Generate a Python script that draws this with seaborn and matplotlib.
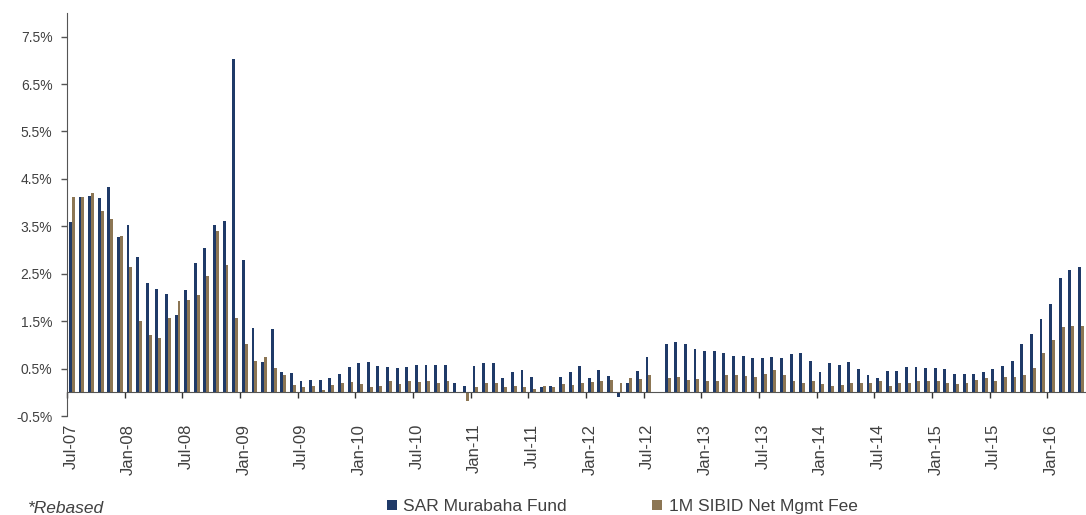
import matplotlib
matplotlib.use("Agg")
import matplotlib.pyplot as plt
import matplotlib.transforms as mtransforms
import numpy as np
import pandas as pd
import seaborn as sns

# monthly returns, Jul-07 .. Apr-16 (in %)
months = pd.date_range("2007-07-01", periods=106, freq="MS").strftime("%b-%y").tolist()

sar_fund = [
    3.59, 4.12, 4.14, 4.10, 4.33, 3.28, 3.52, 2.86, 2.30, 2.17, 2.08, 1.64,
    2.16, 2.73, 3.04, 3.52, 3.61, 7.03, 2.79, 1.35, 0.64, 1.33, 0.42, 0.40,
    0.25, 0.26, 0.26, 0.30, 0.39, 0.53, 0.61, 0.65, 0.56, 0.53, 0.51, 0.53,
    0.57, 0.57, 0.57, 0.57, 0.20, 0.13, 0.55, 0.61, 0.61, 0.30, 0.44, 0.47,
    0.32, 0.11, 0.13, 0.32, 0.42, 0.55, 0.30, 0.47, 0.34, -0.10, 0.20, 0.45,
    0.74, 0.00, 1.01, 1.06, 1.01, 0.91, 0.87, 0.87, 0.82, 0.76, 0.76, 0.72,
    0.72, 0.75, 0.72, 0.80, 0.82, 0.66, 0.42, 0.63, 0.57, 0.64, 0.49, 0.36,
    0.30, 0.45, 0.45, 0.53, 0.53, 0.51, 0.51, 0.49, 0.38, 0.38, 0.39, 0.44,
    0.49, 0.55, 0.66, 1.01, 1.23, 1.54, 1.87, 2.42, 2.57, 2.65,
]

sibid_net = [
    4.12, 4.12, 4.20, 3.83, 3.65, 3.30, 2.65, 1.50, 1.22, 1.14, 1.56, 1.92,
    1.94, 2.06, 2.46, 3.40, 2.68, 1.56, 1.01, 0.66, 0.74, 0.51, 0.36, 0.15,
    0.11, 0.13, 0.06, 0.15, 0.19, 0.21, 0.17, 0.11, 0.13, 0.25, 0.17, 0.23,
    0.21, 0.25, 0.19, 0.25, -0.01, -0.18, 0.11, 0.19, 0.19, 0.11, 0.13, 0.11,
    0.07, 0.13, 0.11, 0.17, 0.15, 0.19, 0.21, 0.23, 0.26, 0.19, 0.30, 0.28,
    0.36, 0.00, 0.30, 0.32, 0.26, 0.28, 0.24, 0.23, 0.36, 0.36, 0.34, 0.32,
    0.38, 0.47, 0.36, 0.23, 0.20, 0.23, 0.17, 0.13, 0.15, 0.19, 0.19, 0.19,
    0.23, 0.13, 0.19, 0.19, 0.23, 0.23, 0.23, 0.19, 0.17, 0.19, 0.26, 0.30,
    0.25, 0.32, 0.32, 0.36, 0.51, 0.84, 1.10, 1.37, 1.40, 1.40,
]

series_names = ["SAR Murabaha Fund", "1M SIBID Net Mgmt Fee"]
colors = ["#1F3A68", "#8C7654"]
y_ticks = [-0.5, 0.5, 1.5, 2.5, 3.5, 4.5, 5.5, 6.5, 7.5]

df = pd.DataFrame({
    "month": months * 2,
    "series": [series_names[0]] * len(months) + [series_names[1]] * len(months),
    "value": sar_fund + sibid_net,
})

sns.set_style("white")
plt.rcParams["font.family"] = ["Liberation Sans", "DejaVu Sans"]
txt = "#404040"

fig = plt.figure(figsize=(10.86, 5.15), dpi=100)
ax = fig.add_axes([0.0617, 0.192, 0.938, 0.783])

sns.barplot(data=df, x="month", y="value", hue="series", order=months,
            hue_order=series_names, palette=colors, saturation=1,
            width=0.6, linewidth=0, ax=ax)

ax.set_xlim(-0.5, len(months) - 0.5)
ax.set_ylim(-0.5, 8.0)
ax.set_xlabel("")
ax.set_ylabel("")

for s in ["top", "right"]:
    ax.spines[s].set_visible(False)
ax.spines["bottom"].set_position(("data", 0))
ax.spines["left"].set_color("#555555")
ax.spines["bottom"].set_color("#555555")

ax.set_yticks(y_ticks)
ax.set_yticklabels([f"{v:.1f}%" for v in y_ticks], fontsize=10, color=txt)
ax.tick_params(axis="y", direction="out", length=4, width=1, color="#555555", pad=6.5, left=True)

tick_pos = [i - 0.5 for i in range(0, len(months), 6)]
tick_lab = [months[i] for i in range(0, len(months), 6)]
ax.set_xticks(tick_pos)
ax.set_xticklabels(tick_lab, rotation=90, fontsize=12, color=txt, va="top")
ax.tick_params(axis="x", direction="out", length=4, width=1, color="#333333", pad=18.5, bottom=True)
shift = mtransforms.ScaledTranslation(4 / 100, 0, fig.dpi_scale_trans)
for lab in ax.get_xticklabels():
    lab.set_transform(lab.get_transform() + shift)

handles, labels = ax.get_legend_handles_labels()
ax.legend(handles, labels, loc="center", bbox_to_anchor=(0.573, 0.016),
          bbox_transform=fig.transFigure, ncol=2, frameon=False, fontsize=12.5,
          handlelength=0.55, handleheight=0.55, handletextpad=0.4,
          columnspacing=4.9, labelcolor=txt)

fig.text(0.026, 0.012, "*Rebased", style="italic", fontsize=12.5, color=txt, va="center")

fig.savefig("out.png", dpi=100)
